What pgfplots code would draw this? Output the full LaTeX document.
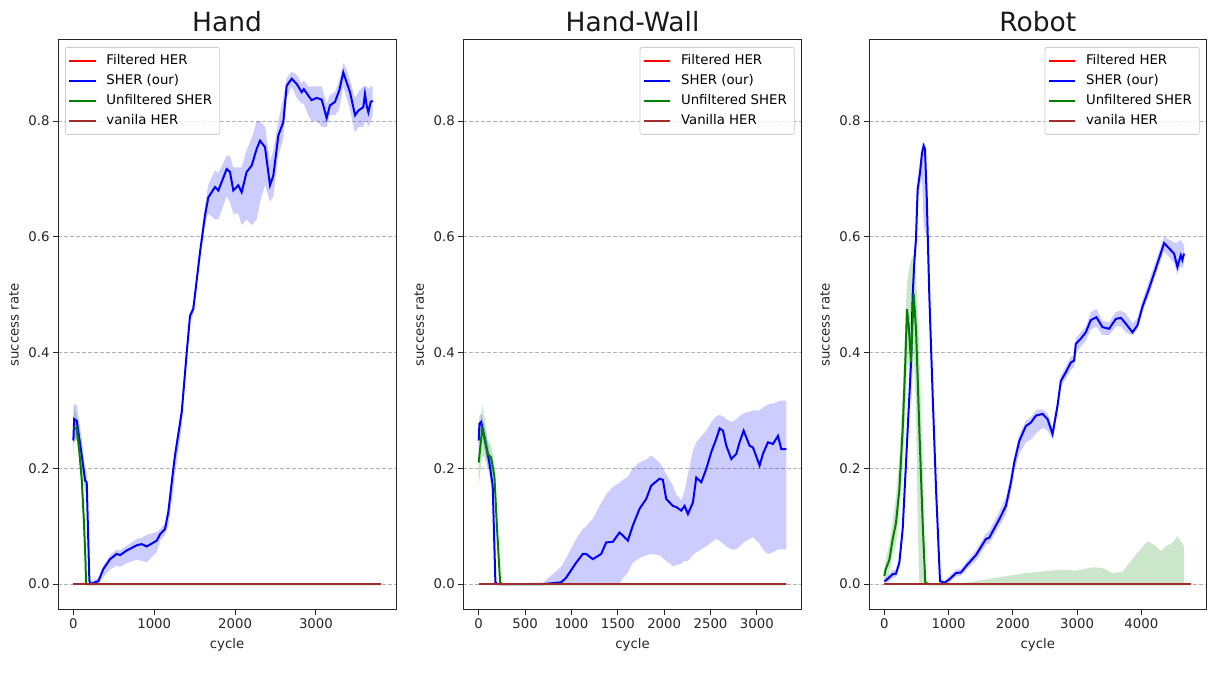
\documentclass[border=0pt]{standalone}
\usepackage{fontspec}
\setmainfont{DejaVu Sans}
\usepackage{pgfplots}
\pgfplotsset{compat=1.18}
\usepackage{pgfplotstable}
\usepgfplotslibrary{fillbetween}
\definecolor{mgreen}{rgb}{0,0.5,0}
\definecolor{mbrown}{rgb}{0.647,0.165,0.165}
\definecolor{lgray}{rgb}{0.8,0.8,0.8}

% ---------------- Hand ----------------
\pgfplotstableread{
x y lo hi
0 0.248 0.22 0.27
10 0.285 0.25 0.31
42 0.282 0.25 0.31
104 0.222 0.20 0.25
145 0.179 0.16 0.20
165 0.176 0.16 0.19
198 0.006 0.0 0.02
210 0.0 0.0 0.005
309 0.005 0.0 0.01
371 0.026 0.012 0.032
454 0.043 0.025 0.05
536 0.052 0.032 0.06
577 0.050 0.030 0.058
660 0.058 0.036 0.066
784 0.067 0.042 0.078
845 0.069 0.040 0.08
907 0.065 0.038 0.085
1031 0.075 0.055 0.09
1072 0.086 0.075 0.095
1133 0.095 0.085 0.105
1174 0.124 0.10 0.135
1236 0.199 0.16 0.21
1257 0.222 0.19 0.235
1340 0.297 0.27 0.31
1402 0.40 0.39 0.41
1443 0.464 0.455 0.47
1483 0.475 0.465 0.485
1566 0.573 0.56 0.585
1628 0.637 0.62 0.655
1669 0.668 0.64 0.69
1752 0.686 0.63 0.715
1793 0.680 0.63 0.71
1896 0.717 0.67 0.74
1937 0.712 0.66 0.74
1978 0.680 0.64 0.72
2040 0.689 0.64 0.72
2081 0.677 0.62 0.72
2143 0.712 0.63 0.75
2205 0.723 0.62 0.77
2267 0.752 0.63 0.80
2308 0.766 0.66 0.80
2370 0.755 0.69 0.79
2432 0.689 0.66 0.73
2473 0.706 0.67 0.75
2535 0.775 0.74 0.80
2596 0.798 0.77 0.84
2638 0.861 0.84 0.875
2700 0.873 0.86 0.885
2762 0.864 0.84 0.88
2823 0.850 0.83 0.865
2850 0.855 0.83 0.87
2905 0.844 0.81 0.86
2946 0.836 0.80 0.86
3008 0.840 0.80 0.86
3070 0.837 0.79 0.86
3091 0.827 0.79 0.85
3132 0.805 0.79 0.83
3173 0.827 0.81 0.845
3235 0.833 0.81 0.85
3289 0.853 0.82 0.87
3338 0.884 0.86 0.90
3379 0.867 0.84 0.89
3421 0.850 0.82 0.87
3483 0.810 0.78 0.84
3524 0.818 0.79 0.85
3586 0.824 0.79 0.86
3606 0.847 0.80 0.86
3627 0.827 0.80 0.86
3648 0.815 0.79 0.855
3677 0.833 0.80 0.86
3702 0.835 0.81 0.86
}\handsher

\pgfplotstableread{
x y lo hi
0 0.271 0.24 0.31
40 0.270 0.25 0.29
70 0.235 0.22 0.25
104 0.180 0.16 0.20
130 0.110 0.09 0.13
150 0.040 0.03 0.05
157 0.0 0.0 0.0
3800 0.0 0.0 0.0
}\handunf

% ---------------- Hand-Wall ----------------
\pgfplotstableread{
x y lo hi
0 0.248 0.23 0.27
8 0.277 0.26 0.29
26 0.280 0.265 0.295
43 0.268 0.25 0.285
80 0.239 0.22 0.26
115 0.210 0.19 0.23
151 0.170 0.15 0.19
180 0.003 0.0 0.01
200 0.0 0.0 0.0
700 0.0 0.0 0.003
889 0.003 0.0 0.03
943 0.011 0.0 0.045
1051 0.037 0.0 0.078
1123 0.052 0.0 0.095
1159 0.052 0.0 0.10
1231 0.043 0.0 0.113
1321 0.052 0.0 0.14
1375 0.072 0.0 0.155
1447 0.073 0.0 0.168
1518 0.089 0.0 0.175
1554 0.084 0.01 0.18
1608 0.075 0.02 0.185
1662 0.101 0.037 0.20
1734 0.130 0.045 0.21
1806 0.147 0.05 0.215
1860 0.170 0.052 0.222
1950 0.182 0.05 0.21
1986 0.180 0.045 0.20
2022 0.147 0.04 0.19
2094 0.135 0.031 0.17
2130 0.133 0.033 0.155
2184 0.127 0.035 0.145
2220 0.135 0.04 0.16
2256 0.121 0.04 0.19
2310 0.141 0.05 0.23
2346 0.184 0.055 0.245
2400 0.176 0.06 0.255
2454 0.199 0.065 0.265
2508 0.228 0.072 0.28
2562 0.251 0.078 0.29
2598 0.269 0.075 0.292
2634 0.265 0.07 0.29
2670 0.239 0.065 0.285
2724 0.216 0.06 0.28
2778 0.225 0.06 0.285
2813 0.245 0.065 0.29
2857 0.265 0.072 0.295
2921 0.239 0.078 0.298
2957 0.236 0.081 0.30
3029 0.205 0.07 0.30
3065 0.225 0.06 0.305
3119 0.245 0.052 0.31
3173 0.242 0.055 0.312
3227 0.256 0.06 0.315
3263 0.233 0.06 0.317
3317 0.233 0.06 0.317
}\wallsher

\pgfplotstableread{
x y lo hi
0 0.210 0.17 0.25
15 0.233 0.19 0.27
37 0.268 0.22 0.31
60 0.255 0.22 0.29
97 0.225 0.20 0.25
133 0.219 0.20 0.24
169 0.187 0.17 0.21
198 0.095 0.08 0.11
231 0.003 0.0 0.01
250 0.0 0.0 0.0
3317 0.0 0.0 0.0
}\wallunf

% ---------------- Robot ----------------
\pgfplotstableread{
x y lo hi
0 0.005 0.0 0.01
20 0.006 0.0 0.012
129 0.017 0.01 0.024
181 0.018 0.012 0.025
233 0.037 0.03 0.045
285 0.095 0.085 0.105
337 0.210 0.20 0.22
389 0.325 0.31 0.34
415 0.383 0.37 0.40
440 0.498 0.48 0.52
466 0.556 0.54 0.575
492 0.596 0.58 0.615
518 0.682 0.66 0.70
555 0.711 0.69 0.73
586 0.745 0.70 0.76
612 0.757 0.62 0.765
632 0.752 0.61 0.76
659 0.670 0.60 0.69
700 0.497 0.48 0.51
752 0.325 0.31 0.34
804 0.164 0.15 0.175
866 0.005 0.0 0.01
933 0.002 0.0 0.006
1010 0.008 0.003 0.014
1114 0.019 0.013 0.025
1192 0.020 0.014 0.026
1295 0.034 0.027 0.041
1425 0.050 0.04 0.058
1581 0.078 0.068 0.088
1632 0.080 0.07 0.092
1788 0.112 0.10 0.125
1891 0.135 0.12 0.15
1969 0.175 0.16 0.19
2021 0.210 0.195 0.22
2099 0.247 0.225 0.258
2202 0.273 0.245 0.282
2280 0.279 0.25 0.288
2358 0.291 0.26 0.30
2461 0.294 0.27 0.302
2539 0.285 0.265 0.295
2617 0.259 0.25 0.27
2694 0.308 0.295 0.318
2746 0.351 0.34 0.36
2824 0.366 0.355 0.376
2902 0.383 0.37 0.393
2953 0.386 0.375 0.395
2979 0.415 0.40 0.425
3057 0.424 0.41 0.435
3135 0.435 0.42 0.445
3212 0.456 0.44 0.47
3300 0.461 0.445 0.475
3393 0.444 0.43 0.455
3497 0.441 0.43 0.452
3601 0.458 0.445 0.47
3679 0.460 0.445 0.472
3757 0.450 0.435 0.468
3860 0.435 0.43 0.45
3938 0.447 0.44 0.46
4016 0.479 0.47 0.49
4120 0.511 0.50 0.525
4223 0.545 0.535 0.558
4353 0.589 0.575 0.60
4430 0.580 0.565 0.595
4508 0.571 0.555 0.59
4560 0.548 0.535 0.59
4612 0.568 0.55 0.595
4637 0.560 0.545 0.59
4664 0.571 0.555 0.585
}\robsher

\pgfplotstableread{
x y lo hi
0 0.014 0.005 0.025
16 0.024 0.01 0.04
78 0.042 0.02 0.07
129 0.077 0.05 0.11
181 0.106 0.07 0.15
233 0.163 0.12 0.22
285 0.267 0.20 0.33
326 0.383 0.30 0.45
352 0.475 0.38 0.52
378 0.447 0.38 0.54
415 0.383 0.30 0.56
456 0.502 0.40 0.57
492 0.441 0.30 0.53
520 0.350 0.10 0.47
544 0.268 0.0 0.40
596 0.106 0.0 0.22
637 0.002 0.0 0.01
700 0.0 0.0 0.0
1000 0.0 0.0 0.0
1300 0.0 0.0 0.003
1684 0.0 0.0 0.010
2202 0.0 0.0 0.019
2772 0.0 0.0 0.025
2979 0.0 0.0 0.023
3238 0.0 0.0 0.029
3393 0.0 0.0 0.028
3549 0.0 0.0 0.019
3705 0.0 0.0 0.021
3808 0.0 0.0 0.036
3938 0.0 0.0 0.054
4093 0.0 0.0 0.074
4197 0.0 0.0 0.068
4301 0.0 0.0 0.057
4379 0.0 0.0 0.065
4482 0.0 0.0 0.071
4560 0.0 0.0 0.083
4664 0.0 0.0 0.065
}\robunf

\newcommand{\serie}[3]{%
  \addplot[draw=none, forget plot, name path=#3lo] table[x=x,y=lo]{#1};
  \addplot[draw=none, forget plot, name path=#3hi] table[x=x,y=hi]{#1};
  \addplot[fill=#2, fill opacity=0.2, draw=none, forget plot] fill between[of=#3lo and #3hi];
  \addplot[#2, line width=2pt] table[x=x,y=y]{#1};
}

\pgfplotsset{
  sher/.style={
    scale only axis, width=338pt, height=570pt, anchor=south west,
    ymin=-0.0448, ymax=0.94,
    ytick={0,0.2,0.4,0.6,0.8},
    axis line style={line width=1pt, black!85},
    tick style={line width=1pt, black!85},
    tick align=outside, major tick length=5pt,
    xtick pos=bottom, ytick pos=left,
    minor tick num=0,
    ymajorgrids,
    major grid style={line width=0.8pt, black!30, dash pattern=on 4pt off 2pt},
    tick label style={font=\fontsize{13.3}{16}\selectfont, text=black!85},
    /pgf/number format/assume math mode=true,
    /pgf/number format/1000 sep={},
    yticklabel style={/pgf/number format/.cd, fixed, fixed zerofill, precision=1},
    scaled ticks=false,
    title style={at={(0.5,1)}, anchor=base, yshift=2pt, font=\fontsize{26.5}{31}\selectfont, text=black!90},
    xlabel={cycle}, ylabel={success rate},
    label style={font=\fontsize{13.3}{16}\selectfont, text=black!85},
    xlabel style={at={(axis description cs:0.5,0)}, anchor=base, yshift=-38.5pt},
    ylabel style={at={(axis description cs:-0.1166,0.5)}, anchor=base},
    legend cell align=left,
    legend image code/.code={\draw[#1] (0pt,0pt) -- (26.7pt,0pt); \path (31.5pt,0pt);},
    legend style={draw=lgray, line width=0.8pt, rounded corners=2pt, fill=white, fill opacity=0.8, text opacity=1,
      font=\fontsize{13.3}{16}\selectfont, inner xsep=2.5pt, inner ysep=3.5pt, row sep=0pt,
      nodes={inner xsep=5pt, inner ysep=3.5pt, text height=10pt, text depth=3pt}},
  },
}

\begin{document}
\begin{tikzpicture}

\begin{axis}[sher, at={(58pt,66pt)}, xmin=-190, xmax=3990, xtick={0,1000,2000,3000}, title={Hand},
  legend style={at={(0,1)}, anchor=north west, xshift=7pt, yshift=-7pt}]
  \addplot[red, line width=2pt] coordinates {(0,0) (3800,0)};
  \serie{\handsher}{blue}{a}
  \serie{\handunf}{mgreen}{b}
  \addplot[mbrown, line width=2pt] coordinates {(0,0) (3800,0)};
  \legend{Filtered HER, SHER (our), Unfiltered SHER\hspace{4pt}, vanila HER}
\end{axis}

\begin{axis}[sher, at={(463.3pt,66pt)}, width=338.4pt, xmin=-166, xmax=3483, xtick={0,500,1000,1500,2000,2500,3000}, title={Hand-Wall},
  legend style={at={(1,1)}, anchor=north east, xshift=-7pt, yshift=-7pt}]
  \addplot[red, line width=2pt] coordinates {(0,0) (3317,0)};
  \serie{\wallsher}{blue}{a}
  \serie{\wallunf}{mgreen}{b}
  \addplot[mbrown, line width=2pt] coordinates {(0,0) (3317,0)};
  \legend{Filtered HER, SHER (our), Unfiltered SHER\hspace{4pt}, Vanilla HER}
\end{axis}

\begin{axis}[sher, at={(869pt,66pt)}, width=337.7pt, xmin=-239, xmax=5016, xtick={0,1000,2000,3000,4000}, title={Robot},
  legend style={at={(1,1)}, anchor=north east, xshift=-7pt, yshift=-7pt}]
  \addplot[red, line width=2pt] coordinates {(0,0) (4777,0)};
  \serie{\robsher}{blue}{a}
  \serie{\robunf}{mgreen}{b}
  \addplot[mbrown, line width=2pt] coordinates {(0,0) (4777,0)};
  \legend{Filtered HER, SHER (our), Unfiltered SHER\hspace{4pt}, vanila HER}
\end{axis}
\path (0pt,0pt) rectangle (1216pt,676pt);
\end{tikzpicture}
\end{document}
